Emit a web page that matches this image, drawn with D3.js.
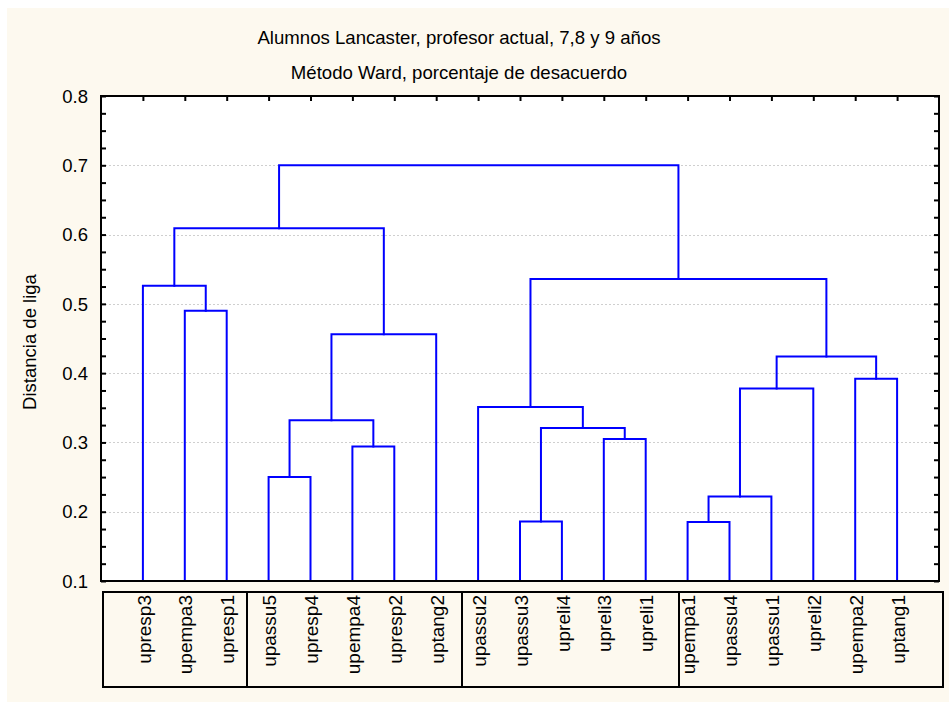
<!DOCTYPE html>
<html>
<head>
<meta charset="utf-8">
<script src="https://cdn.jsdelivr.net/npm/d3@7/dist/d3.min.js"></script>
<style>
  html, body { margin: 0; padding: 0; background: #ffffff; }
  svg { display: block; font-family: "Liberation Sans", Arial, sans-serif; }
</style>
</head>
<body>
<svg id="chart" width="949" height="702"></svg>
<script>
// Leaves of the tree, left to right
const leaves = ["upresp3", "upempa3", "upresp1", "upassu5", "upresp4", "upempa4", "upresp2",
  "uptang2", "upassu2", "upassu3", "upreli4", "upreli3", "upreli1", "upempa1", "upassu4",
  "upassu1", "upreli2", "upempa2", "uptang1"];

// Ward linkage steps: each joins two members (leaf names or earlier steps "m#") at a height
const mergeLeft   = ["upempa3", "upresp3", "upassu5", "upempa4", "m2", "m4", "m1",
  "upassu3", "upreli3", "m7", "upassu2", "upempa1", "m11", "m12", "upempa2", "m13", "m10", "m6"];
const mergeRight  = ["upresp1", "m0", "upresp4", "upresp2", "m3", "uptang2", "m5",
  "upreli4", "upreli1", "m8", "m9", "upassu4", "upassu1", "upreli2", "uptang1", "m14", "m15", "m16"];
const mergeHeight = [0.490, 0.526, 0.250, 0.294, 0.332, 0.456, 0.609,
  0.186, 0.305, 0.321, 0.351, 0.185, 0.222, 0.378, 0.392, 0.424, 0.536, 0.700];

// Label groups along the bottom strip (number of leaves in each box)
const groupSizes = [3, 5, 5, 6];

const yTicks = [0.1, 0.2, 0.3, 0.4, 0.5, 0.6, 0.7, 0.8];
const titleLines = ["Alumnos Lancaster, profesor actual, 7,8 y 9 años",
  "Método Ward, porcentaje de desacuerdo"];
const yTitle = "Distancia de liga";

// Layout
const plot = { left: 101, right: 939, top: 96, bottom: 581 };
const strip = { top: 592, bottom: 687, left: 103, right: 943, dividers: [247, 462, 679] };
const cream = "#fdf9ef";
const blue = "#0000ff";

const svg = d3.select("#chart");

svg.append("rect").attr("x", 7).attr("y", 8).attr("width", 942).attr("height", 694)
  .attr("fill", cream);

const x = d3.scaleLinear().domain([0, leaves.length + 1]).range([plot.left, plot.right]);
const y = d3.scaleLinear().domain([0.1, 0.8]).range([plot.bottom, plot.top]);

// Plot background
svg.append("rect").attr("x", plot.left).attr("y", plot.top)
  .attr("width", plot.right - plot.left).attr("height", plot.bottom - plot.top)
  .attr("fill", "#ffffff");

// Dotted grid at inner major ticks
svg.append("g").selectAll("line")
  .data(yTicks.filter(t => t > 0.1 && t < 0.8))
  .join("line")
  .attr("x1", plot.left).attr("x2", plot.right)
  .attr("y1", d => Math.round(y(d)) + 0.5).attr("y2", d => Math.round(y(d)) + 0.5)
  .attr("stroke", "#cfcfcf").attr("stroke-width", 1).attr("stroke-dasharray", "2,2");

// Node positions
const pos = {};
leaves.forEach((name, i) => { pos[name] = { x: x(i + 1), h: 0.1 }; });
const links = [];
mergeHeight.forEach((h, i) => {
  const a = pos[mergeLeft[i]], b = pos[mergeRight[i]];
  links.push({ a, b, h });
  pos["m" + i] = { x: (a.x + b.x) / 2, h };
});

svg.append("g").selectAll("path")
  .data(links)
  .join("path")
  .attr("d", d => {
    const p = d3.path();
    p.moveTo(d.a.x, y(d.a.h));
    p.lineTo(d.a.x, y(d.h));
    p.lineTo(d.b.x, y(d.h));
    p.lineTo(d.b.x, y(d.b.h));
    return p.toString();
  })
  .attr("fill", "none").attr("stroke", blue).attr("stroke-width", 2)
  .attr("stroke-linejoin", "miter").attr("stroke-linecap", "square");

// Axes with inward ticks
const minorTicks = d3.range(0.1, 0.8001, 0.025);
const leftAxis = d3.axisRight(y).tickValues(minorTicks).tickSize(5).tickFormat("");
const rightAxis = d3.axisLeft(y).tickValues(minorTicks).tickSize(5).tickFormat("");
const topAxis = d3.axisBottom(x).tickValues(d3.range(1, leaves.length + 1)).tickSize(5).tickFormat("");

function styleAxis(g) {
  g.select(".domain").remove();
  g.selectAll(".tick line").attr("stroke", "#000").attr("stroke-width", 2);
}
svg.append("g").attr("transform", `translate(${plot.left},0)`).call(leftAxis).call(styleAxis);
svg.append("g").attr("transform", `translate(${plot.right},0)`).call(rightAxis).call(styleAxis);
svg.append("g").attr("transform", `translate(0,${plot.top})`).call(topAxis).call(styleAxis);

// Tick labels
svg.append("g").selectAll("text")
  .data(yTicks)
  .join("text")
  .attr("x", plot.left - 13).attr("y", d => y(d))
  .attr("dy", "0.36em").attr("text-anchor", "end")
  .attr("font-size", 18.5).attr("fill", "#000")
  .text(d => d3.format(".1f")(d));

// Frame
svg.append("rect").attr("x", plot.left).attr("y", plot.top)
  .attr("width", plot.right - plot.left).attr("height", plot.bottom - plot.top)
  .attr("fill", "none").attr("stroke", "#000").attr("stroke-width", 2);

// Titles
svg.append("g").selectAll("text")
  .data(titleLines)
  .join("text")
  .attr("x", 459).attr("y", (d, i) => 43.5 + i * 35)
  .attr("text-anchor", "middle").attr("font-size", 18.6).attr("fill", "#000")
  .text(d => d);

svg.append("text")
  .attr("transform", `translate(36,342) rotate(-90)`)
  .attr("text-anchor", "middle").attr("font-size", 18.5).attr("fill", "#000")
  .text(yTitle);

// Label strip
svg.append("rect").attr("x", strip.left).attr("y", strip.top)
  .attr("width", strip.right - strip.left).attr("height", strip.bottom - strip.top)
  .attr("fill", cream).attr("stroke", "#000").attr("stroke-width", 2);
svg.append("g").selectAll("line")
  .data(strip.dividers.slice(0, groupSizes.length - 1))
  .join("line")
  .attr("x1", d => d).attr("x2", d => d)
  .attr("y1", strip.top).attr("y2", strip.bottom)
  .attr("stroke", "#000").attr("stroke-width", 2);

svg.append("g").selectAll("text")
  .data(leaves)
  .join("text")
  .attr("transform", (d, i) => `translate(${x(i + 1) + 1},${strip.top + 3}) rotate(-90)`)
  .attr("text-anchor", "end").attr("dy", "0.35em")
  .attr("font-size", 19).attr("fill", "#000")
  .text(d => d);
</script>
</body>
</html>
